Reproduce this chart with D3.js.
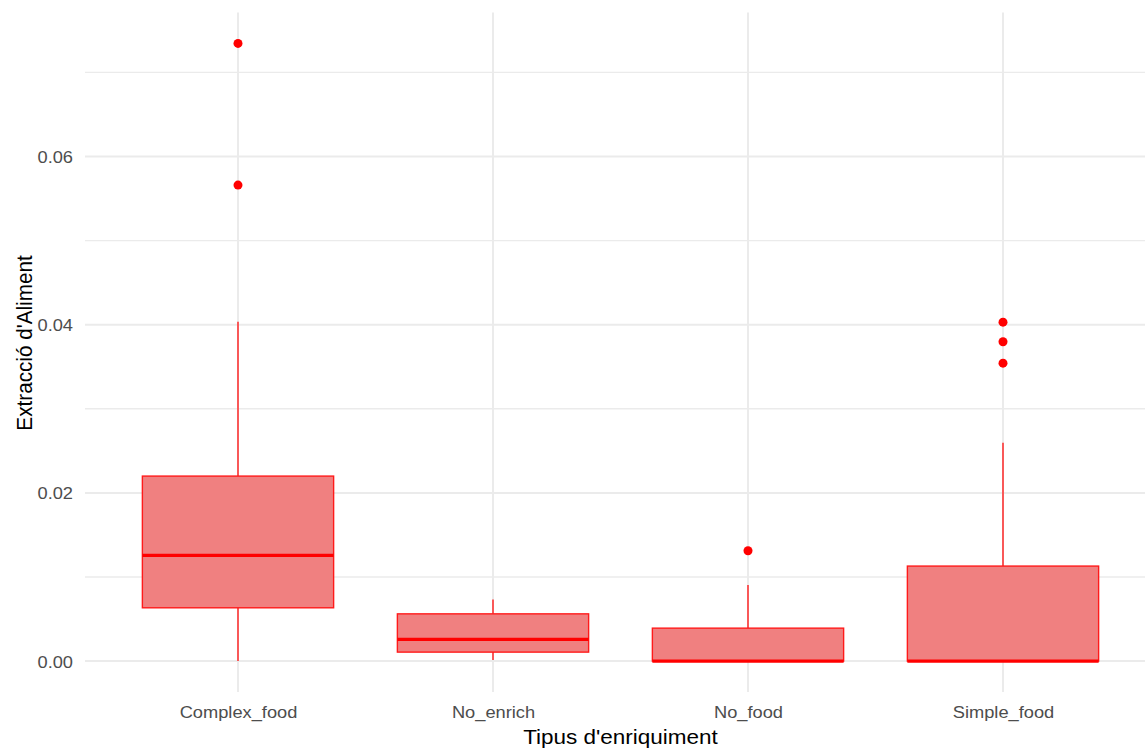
<!DOCTYPE html>
<html>
<head>
<meta charset="utf-8">
<script src="https://cdn.jsdelivr.net/npm/d3@7"></script>
<style>
  html, body { margin: 0; padding: 0; background: #ffffff; }
  svg { display: block; }
  text { font-family: "Liberation Sans", Arial, sans-serif; }
</style>
</head>
<body>
<svg id="chart" width="1145" height="752"></svg>
<script>
// Summary statistics per enrichment type
const categories = ["Complex_food", "No_enrich", "No_food", "Simple_food"];
const whiskerLow  = [0.0000, 0.00012, 0.0000, 0.0000];
const q1          = [0.00634, 0.00107, 0.0000, 0.0000];
const medians     = [0.01257, 0.00258, 0.0000, 0.0000];
const q3          = [0.0220, 0.00562, 0.00392, 0.0113];
const whiskerHigh = [0.04035, 0.00734, 0.00904, 0.02596];
const outliers    = [[0.0566, 0.07345], [], [0.01312], [0.03543, 0.03797, 0.0403]];

const yMajorTicks = [0, 0.02, 0.04, 0.06];
const yMinorTicks = [0.01, 0.03, 0.05, 0.07];

const xTitle = "Tipus d'enriquiment";
const yTitle = "Extracció d'Aliment";

// Layout
const W = 1145, H = 752;
const panel = { left: 85, right: 1156, top: 12.5, bottom: 692 };
const stretch = 1.087;           // horizontal text stretch
const tickFont = 16.8, titleFont = 20.7;

const svg = d3.select("#chart");

// Scales (5% expansion on y, discrete padding on x)
const allVals = whiskerLow.concat(whiskerHigh, outliers.flat());
const yMin = d3.min(allVals), yMax = d3.max(allVals);
const pad = (yMax - yMin) * 0.05;
const y = d3.scaleLinear().domain([yMin - pad, yMax + pad]).range([panel.bottom, panel.top]);
const x = d3.scalePoint().domain(categories).range([panel.left, panel.right]).padding(0.6);
const boxW = x.step() * 0.75;

// Grid
const grid = svg.append("g");
grid.selectAll("line.minor").data(yMinorTicks).join("line")
  .attr("x1", panel.left).attr("x2", panel.right)
  .attr("y1", d => y(d)).attr("y2", d => y(d))
  .attr("stroke", "#EBEBEB").attr("stroke-width", 1.4);
grid.selectAll("line.major").data(yMajorTicks).join("line")
  .attr("x1", panel.left).attr("x2", panel.right)
  .attr("y1", d => y(d)).attr("y2", d => y(d))
  .attr("stroke", "#EBEBEB").attr("stroke-width", 2);
grid.selectAll("line.vx").data(categories).join("line")
  .attr("x1", d => x(d)).attr("x2", d => x(d))
  .attr("y1", panel.top).attr("y2", panel.bottom)
  .attr("stroke", "#EBEBEB").attr("stroke-width", 2);

// Boxplots
const boxes = svg.append("g").selectAll("g").data(categories).join("g");
boxes.append("line")
  .attr("x1", d => x(d)).attr("x2", d => x(d))
  .attr("y1", (d, i) => y(q3[i])).attr("y2", (d, i) => y(whiskerHigh[i]))
  .attr("stroke", "#FF1A1A").attr("stroke-width", 1.4);
boxes.append("line")
  .attr("x1", d => x(d)).attr("x2", d => x(d))
  .attr("y1", (d, i) => y(q1[i])).attr("y2", (d, i) => y(whiskerLow[i]))
  .attr("stroke", "#FF1A1A").attr("stroke-width", 1.4);
boxes.append("rect")
  .attr("x", d => x(d) - boxW / 2).attr("width", boxW)
  .attr("y", (d, i) => y(q3[i]))
  .attr("height", (d, i) => y(q1[i]) - y(q3[i]))
  .attr("fill", "#F08080").attr("stroke", "#FF1A1A").attr("stroke-width", 1.4);
boxes.append("line")
  .attr("x1", d => x(d) - boxW / 2).attr("x2", d => x(d) + boxW / 2)
  .attr("y1", (d, i) => y(medians[i])).attr("y2", (d, i) => y(medians[i]))
  .attr("stroke", "#FF0000").attr("stroke-width", 3.3);

// Outliers
boxes.each(function(d, i) {
  d3.select(this).selectAll("circle").data(outliers[i]).join("circle")
    .attr("cx", x(d)).attr("cy", v => y(v)).attr("r", 4.5)
    .attr("fill", "#FF0000");
});

// Y axis labels
const yAxis = svg.append("g").attr("transform", "translate(73,0)")
  .call(d3.axisLeft(y).tickValues(yMajorTicks).tickFormat(d3.format(".2f")).tickSize(0).tickPadding(0));
yAxis.select(".domain").remove();
yAxis.selectAll("text")
  .attr("x", 0).attr("dy", "0.36em")
  .attr("transform", `scale(${stretch},1)`)
  .attr("fill", "#4D4D4D").style("font-size", tickFont + "px")
  .style("font-family", '"Liberation Sans", Arial, sans-serif');

// X axis labels
const xAxis = svg.append("g").attr("transform", "translate(0,718)")
  .call(d3.axisBottom(x).tickSize(0).tickPadding(0));
xAxis.select(".domain").remove();
xAxis.selectAll("text")
  .attr("y", 0).attr("dy", 0)
  .attr("transform", `scale(${stretch},1)`)
  .attr("fill", "#4D4D4D").style("font-size", tickFont + "px")
  .style("font-family", '"Liberation Sans", Arial, sans-serif');

// Axis titles
svg.append("text")
  .attr("transform", `translate(${(panel.left + panel.right) / 2},744) scale(${stretch},1)`)
  .attr("text-anchor", "middle").attr("fill", "#000")
  .style("font-size", titleFont + "px")
  .text(xTitle);
svg.append("text")
  .attr("transform", `translate(32,343) rotate(-90) scale(1,${stretch})`)
  .attr("text-anchor", "middle").attr("fill", "#000")
  .style("font-size", titleFont + "px")
  .text(yTitle);
</script>
</body>
</html>
